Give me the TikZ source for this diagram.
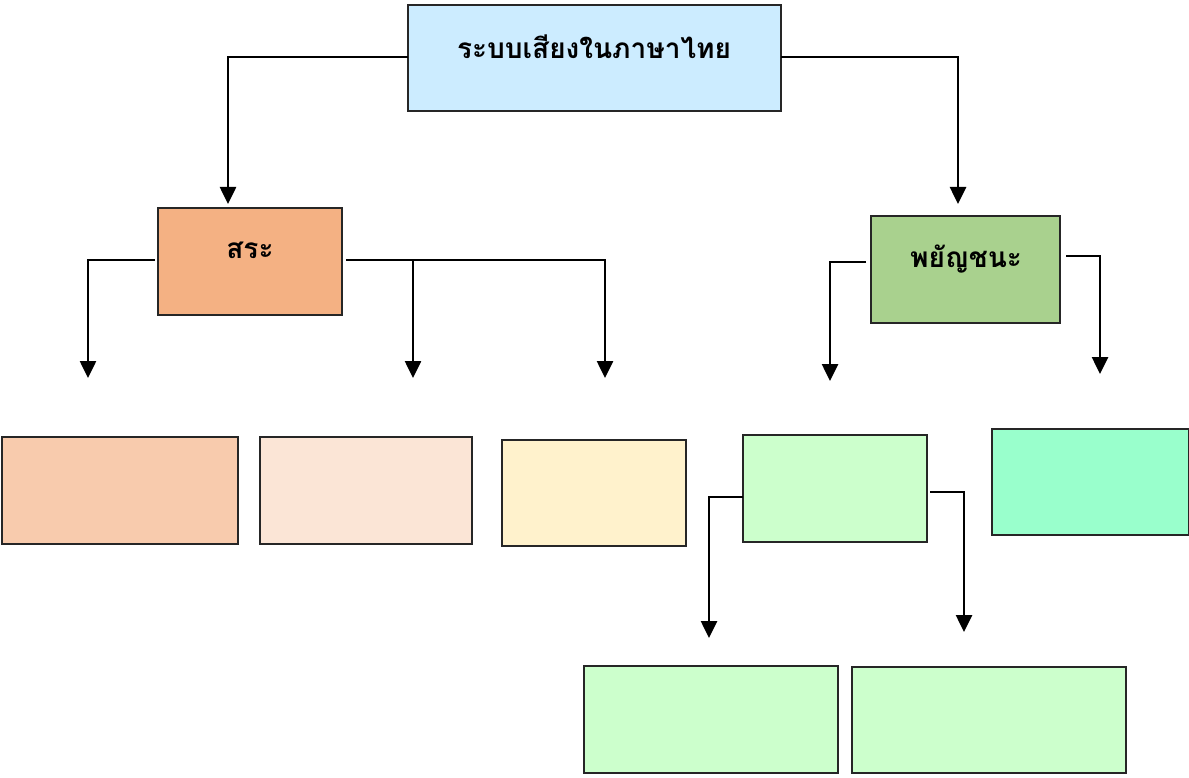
\documentclass[tikz,border=0pt]{standalone}
\usepackage{fontspec}
\newfontfamily\thaifont[Script=Thai]{Loma}
\usetikzlibrary{arrows.meta}
\definecolor{topc}{HTML}{CCECFF}
\definecolor{sarac}{HTML}{F4B183}
\definecolor{payc}{HTML}{A9D18E}
\definecolor{c1}{HTML}{F8CBAD}
\definecolor{c2}{HTML}{FBE5D6}
\definecolor{c3}{HTML}{FFF2CC}
\definecolor{c4}{HTML}{CCFFCC}
\definecolor{c5}{HTML}{99FFCC}
\tikzset{
  boxs/.style={draw=black!85, line width=1.2pt},
  lbl/.style={font=\thaifont\bfseries\fontsize{28}{33}\selectfont, inner sep=0pt},
  conn/.style={line width=2.6pt, -{Triangle[width=16pt,length=17pt]}},
}
\begin{document}
\begin{tikzpicture}[x=1pt,y=-1pt]
\useasboundingbox (0,0) rectangle (1189,778);
% boxes
\path[boxs,fill=topc] (408,5) rectangle (781,111);
\path[boxs,fill=sarac] (158,208) rectangle (342,315);
\path[boxs,fill=payc] (871,216) rectangle (1060,323);
\path[boxs,fill=c1] (2,437) rectangle (238,544);
\path[boxs,fill=c2] (260,437) rectangle (472,544);
\path[boxs,fill=c3] (502,440) rectangle (686,546);
\path[boxs,fill=c4] (743,435) rectangle (927,542);
\path[boxs,fill=c5] (992,429) rectangle (1189,535);
\path[boxs,fill=c4] (584,666) rectangle (838,773);
\path[boxs,fill=c4] (852,667) rectangle (1126,773);
% labels
\node[lbl] (top) at (594,47) {ระบบเสียงในภาษาไทย};
\node[lbl] (sara) at (250,250) {สระ};
\node[lbl] (pay) at (966,259) {พยัญชนะ};
% connector anchors
\coordinate (tL) at (408,57);
\coordinate (tR) at (781,57);
\coordinate (tLe) at (228,204);
\coordinate (tRe) at (958,204);
\coordinate (sL) at (155,260);
\coordinate (sR) at (346,260);
\coordinate (sLe) at (88,378);
\coordinate (sMe) at (413,378);
\coordinate (sM) at (413,260);
\coordinate (sRe) at (605,378);
\coordinate (pL) at (866,262);
\coordinate (pR) at (1066,256);
\coordinate (pLe) at (830,381);
\coordinate (pRe) at (1100,374);
\coordinate (gL) at (743,497);
\coordinate (gR) at (930,492);
\coordinate (gLe) at (709,638);
\coordinate (gRe) at (964,632);
% connectors
\draw[conn] (tL) -| (tLe);
\draw[conn] (tR) -| (tRe);
\draw[conn] (sL) -| (sLe);
\draw[conn] (sR) -| (sMe);
\draw[conn] (sM) -| (sRe);
\draw[conn] (pL) -| (pLe);
\draw[conn] (pR) -| (pRe);
\draw[conn] (gL) -| (gLe);
\draw[conn] (gR) -| (gRe);
\end{tikzpicture}
\end{document}
